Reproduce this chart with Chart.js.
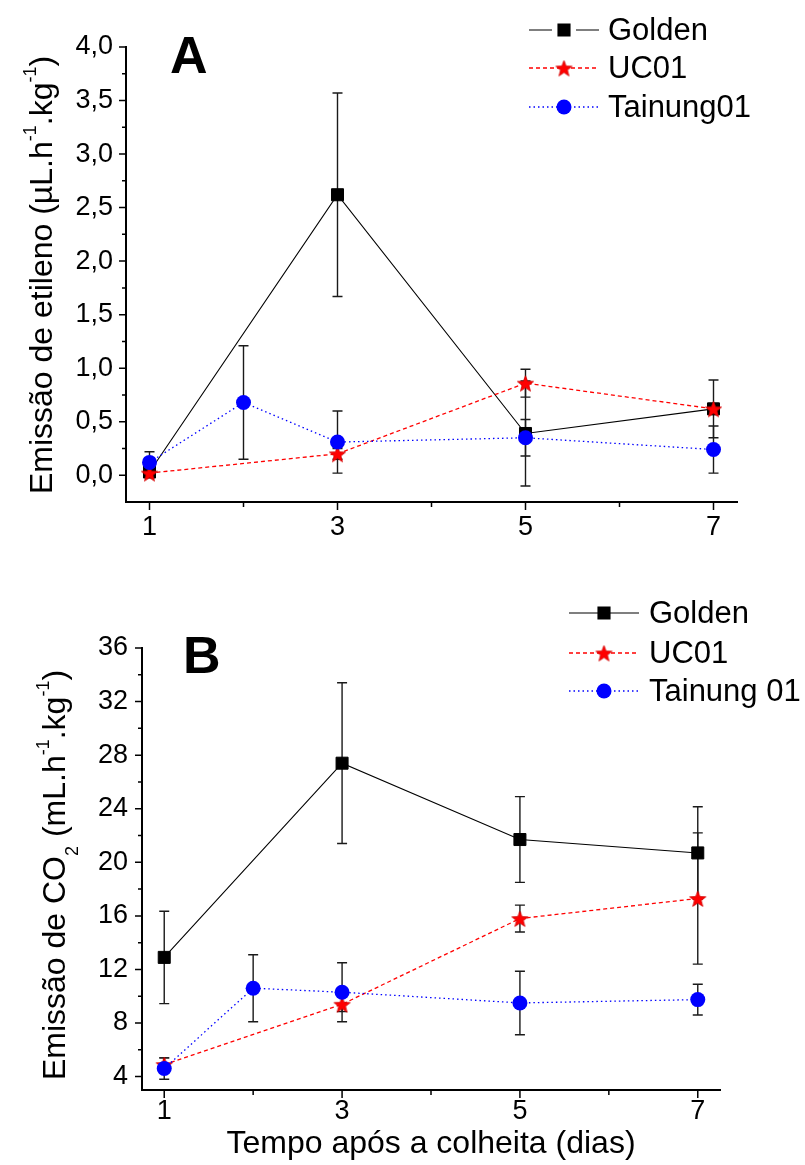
<!DOCTYPE html>
<html>
<head>
<meta charset="utf-8">
<script src="https://cdn.jsdelivr.net/npm/chart.js@4.4.1/dist/chart.umd.min.js"></script>
<style>
  body { margin: 0; background: #fff; width: 805px; height: 1165px; position: relative; overflow: hidden; }
  .panel { position: absolute; left: 0; width: 805px; }
  #panelA { top: 0; height: 580px; }
  #panelB { top: 580px; height: 585px; }
</style>
</head>
<body>
<div class="panel" id="panelA"><canvas id="chartA"></canvas></div>
<div class="panel" id="panelB"><canvas id="chartB"></canvas></div>
<script>
const FONT = '"Liberation Sans", Arial, sans-serif';

// days after harvest
const daysGolden = [1, 3, 5, 7];
const daysUC01 = [1, 3, 5, 7];
const daysTainung = [1, 2, 3, 5, 7];
const xLabelDays = [1, 3, 5, 7];
const xMinorDays = [2, 4, 6];

// A - ethylene (uL.h-1.kg-1), mean and error
const ethGolden = [0.03, 2.62, 0.39, 0.62];
const ethGoldenErr = [0.05, 0.95, 0.49, 0.27];
const ethUC01 = [0.02, 0.20, 0.86, 0.62];
const ethUC01Err = [0.03, 0.05, 0.13, 0.05];
const ethTainung = [0.12, 0.68, 0.31, 0.35, 0.24];
const ethTainungErr = [0.10, 0.53, 0.29, 0.17, 0.22];
const ethTicks = [0, 0.5, 1, 1.5, 2, 2.5, 3, 3.5, 4];
const ethMinor = [0.25, 0.75, 1.25, 1.75, 2.25, 2.75, 3.25, 3.75];

// B - CO2 (mL.h-1.kg-1), mean and error
const co2Golden = [12.9, 27.4, 21.7, 20.7];
const co2GoldenErr = [3.45, 6.0, 3.2, 3.45];
const co2UC01 = [4.9, 9.4, 15.8, 17.3];
const co2UC01Err = [0.5, 0.55, 1.0, 4.9];
const co2Tainung = [4.6, 10.6, 10.3, 9.5, 9.75];
const co2TainungErr = [0.8, 2.5, 2.2, 2.37, 1.15];
const co2Ticks = [4, 8, 12, 16, 20, 24, 28, 32, 36];
const co2Minor = [6, 10, 14, 18, 22, 26, 30, 34];

const namesA = ['Golden', 'UC01', 'Tainung01'];
const namesB = ['Golden', 'UC01', 'Tainung 01'];

function makeStar(r, color) {
    const c = document.createElement('canvas');
    const s = Math.ceil(r * 2 + 2);
    c.width = c.height = s;
    const g = c.getContext('2d');
    g.beginPath();
    for (let k = 0; k < 10; k++) {
        const rad = k % 2 ? r * 0.42 : r;
        const a = -Math.PI / 2 + k * Math.PI / 5;
        g.lineTo(s / 2 + rad * Math.cos(a), s / 2 + 1 + rad * Math.sin(a));
    }
    g.closePath();
    g.fillStyle = color;
    g.fill();
    g.strokeStyle = '#d00000';
    g.lineWidth = 0.8;
    g.stroke();
    return c;
}
const star = makeStar(8.5, '#ff0000');

function pts(xs, ys) {
    return xs.map((x, i) => ({ x: x, y: ys[i] }));
}

function buildDatasets(names, g, gErr, u, uErr, t, tErr) {
    return [
        { label: names[0], data: pts(daysGolden, g), errorBars: gErr, order: 3,
          borderColor: '#000', borderWidth: 1.1, backgroundColor: '#000',
          pointStyle: 'rect', pointRadius: 8.5, pointBorderWidth: 1, pointBorderColor: '#000' },
        { label: names[1], data: pts(daysUC01, u), errorBars: uErr, order: 2,
          borderColor: '#ff0000', borderWidth: 1.3, borderDash: [4, 3], backgroundColor: '#ff0000',
          pointStyle: star, pointRadius: 8 },
        { label: names[2], data: pts(daysTainung, t), errorBars: tErr, order: 1,
          borderColor: '#0000ff', borderWidth: 1.3, borderDash: [1.5, 3], backgroundColor: '#0000ff',
          pointStyle: 'circle', pointRadius: 7.5, pointBorderWidth: 0, pointBorderColor: '#0000ff' }
    ];
}

function drawRich(ctx, parts, cx, cy, size) {
    const small = Math.round(size * 0.56);
    ctx.save();
    ctx.translate(cx, cy);
    ctx.rotate(-Math.PI / 2);
    ctx.fillStyle = '#000';
    ctx.textBaseline = 'alphabetic';
    let total = 0;
    parts.forEach(p => {
        ctx.font = (p.k ? small : size) + 'px ' + FONT;
        total += ctx.measureText(p.t).width;
    });
    let xx = -total / 2;
    parts.forEach(p => {
        ctx.font = (p.k ? small : size) + 'px ' + FONT;
        const dy = p.k === 'sup' ? -size * 0.5 : (p.k === 'sub' ? size * 0.42 : 0);
        ctx.fillText(p.t, xx, dy);
        xx += ctx.measureText(p.t).width;
    });
    ctx.restore();
}

const panelPlugin = {
    id: 'panel',
    beforeDatasetsDraw(chart) {
        const { ctx, scales: { x, y } } = chart;
        ctx.save();
        ctx.strokeStyle = '#1a1a1a';
        ctx.lineWidth = 1.4;
        chart.data.datasets.forEach(ds => {
            (ds.errorBars || []).forEach((e, i) => {
                const p = ds.data[i];
                const px = x.getPixelForValue(p.x);
                const top = y.getPixelForValue(p.y + e);
                const bot = y.getPixelForValue(p.y - e);
                ctx.beginPath();
                ctx.moveTo(px, top); ctx.lineTo(px, bot);
                ctx.moveTo(px - 5, top); ctx.lineTo(px + 5, top);
                ctx.moveTo(px - 5, bot); ctx.lineTo(px + 5, bot);
                ctx.stroke();
            });
        });
        ctx.restore();
    },
    afterDraw(chart, args, opts) {
        const { ctx, chartArea: area, scales: { x, y } } = chart;
        ctx.save();
        // tick marks (outside)
        ctx.strokeStyle = '#000';
        ctx.lineWidth = 1.5;
        ctx.beginPath();
        xLabelDays.forEach(v => { const px = x.getPixelForValue(v); ctx.moveTo(px, area.bottom); ctx.lineTo(px, area.bottom + 8); });
        xMinorDays.forEach(v => { const px = x.getPixelForValue(v); ctx.moveTo(px, area.bottom); ctx.lineTo(px, area.bottom + 5); });
        opts.yMajor.forEach(v => { const py = y.getPixelForValue(v); ctx.moveTo(area.left, py); ctx.lineTo(area.left - 7, py); });
        opts.yMinor.forEach(v => { const py = y.getPixelForValue(v); ctx.moveTo(area.left, py); ctx.lineTo(area.left - 4, py); });
        ctx.stroke();

        // y title
        drawRich(ctx, opts.yTitle, opts.yTitleX, opts.yTitleY, 32);

        // x title
        if (opts.xTitle) {
            ctx.font = '32px ' + FONT;
            ctx.fillStyle = '#000';
            ctx.textAlign = 'center';
            ctx.textBaseline = 'alphabetic';
            ctx.fillText(opts.xTitle, (area.left + area.right) / 2, opts.xTitleY);
        }

        // panel letter
        ctx.font = 'bold 52px ' + FONT;
        ctx.fillStyle = '#000';
        ctx.textAlign = 'left';
        ctx.textBaseline = 'alphabetic';
        ctx.fillText(opts.letter, opts.letterX, opts.letterY);

        // legend: line - marker - line, then name
        const lg = opts.legend;
        chart.data.datasets.forEach((ds, i) => {
            const ly = lg.rows[i];
            ctx.save();
            ctx.strokeStyle = ds.borderColor;
            ctx.lineWidth = ds.borderWidth;
            ctx.setLineDash(ds.borderDash || []);
            ctx.beginPath();
            if (i === 0 && lg.gap) {
                ctx.moveTo(lg.x1, ly); ctx.lineTo(lg.mx - 12, ly);
                ctx.moveTo(lg.mx + 12, ly); ctx.lineTo(lg.x2, ly);
            } else {
                ctx.moveTo(lg.x1, ly); ctx.lineTo(lg.x2, ly);
            }
            ctx.stroke();
            ctx.setLineDash([]);
            if (ds.pointStyle instanceof HTMLCanvasElement) {
                ctx.drawImage(ds.pointStyle, lg.mx - ds.pointStyle.width / 2, ly - ds.pointStyle.height / 2);
            } else {
                ctx.fillStyle = ds.backgroundColor;
                ctx.strokeStyle = ds.pointBorderColor;
                Chart.helpers.drawPoint(ctx, { pointStyle: ds.pointStyle, radius: ds.pointRadius, borderWidth: ds.pointBorderWidth, rotation: 0 }, lg.mx, ly);
            }
            ctx.restore();
            ctx.font = '31px ' + FONT;
            ctx.fillStyle = '#000';
            ctx.textAlign = 'left';
            ctx.textBaseline = 'middle';
            ctx.fillText(ds.label, lg.tx, ly + 1);
        });
        ctx.restore();
    }
};

function makeChart(id, cfg) {
    return new Chart(document.getElementById(id), {
        type: 'line',
        data: { datasets: cfg.datasets },
        options: {
            responsive: true,
            maintainAspectRatio: false,
            animation: false,
            layout: { padding: { left: 0, top: cfg.top, right: cfg.right, bottom: 0 } },
            elements: { line: { tension: 0, fill: false } },
            plugins: {
                legend: { display: false },
                tooltip: { enabled: false },
                panel: cfg.panel
            },
            scales: {
                x: {
                    type: 'linear', min: 0.75, max: 7.25,
                    afterFit: s => { s.height = cfg.xAxisH; },
                    afterBuildTicks: s => { s.ticks = xLabelDays.map(v => ({ value: v })); },
                    ticks: { color: '#000', font: { family: FONT, size: 27 }, padding: cfg.xPad,
                             autoSkip: false, maxRotation: 0, callback: v => String(v) },
                    grid: { drawOnChartArea: false, drawTicks: false },
                    border: { color: '#000', width: 2 }
                },
                y: {
                    type: 'linear', min: cfg.yMin, max: cfg.yMax,
                    afterFit: s => { s.width = cfg.yAxisW; },
                    afterBuildTicks: s => { s.ticks = cfg.yTicks.map(v => ({ value: v })); },
                    ticks: { color: '#000', font: { family: FONT, size: 27 }, padding: cfg.yPad,
                             autoSkip: false, callback: cfg.yFmt },
                    grid: { drawOnChartArea: false, drawTicks: false },
                    border: { color: '#000', width: 2 }
                }
            }
        },
        plugins: [panelPlugin]
    });
}

makeChart('chartA', {
    datasets: buildDatasets(namesA, ethGolden, ethGoldenErr, ethUC01, ethUC01Err, ethTainung, ethTainungErr),
    top: 47, right: 68, xAxisH: 78, yAxisW: 126, xPad: 9, yPad: 13,
    yMin: -0.25, yMax: 4, yTicks: ethTicks,
    yFmt: v => v.toFixed(1).replace('.', ','),
    panel: {
        yMajor: ethTicks, yMinor: ethMinor,
        yTitle: [{ t: 'Emissão de etileno (µL.h' }, { t: '-1', k: 'sup' }, { t: '.kg' }, { t: '-1', k: 'sup' }, { t: ')' }],
        yTitleX: 52, yTitleY: 275,
        letter: 'A', letterX: 170, letterY: 73,
        legend: { x1: 529, x2: 599, mx: 564, tx: 608, rows: [30, 68, 107], gap: true }
    }
});

makeChart('chartB', {
    datasets: buildDatasets(namesB, co2Golden, co2GoldenErr, co2UC01, co2UC01Err, co2Tainung, co2TainungErr),
    top: 68, right: 85, xAxisH: 75, yAxisW: 142, xPad: 5, yPad: 14,
    yMin: 3, yMax: 36, yTicks: co2Ticks,
    yFmt: v => String(v),
    panel: {
        yMajor: co2Ticks, yMinor: co2Minor,
        yTitle: [{ t: 'Emissão de CO' }, { t: '2', k: 'sub' }, { t: ' (mL.h' }, { t: '-1', k: 'sup' }, { t: '.kg' }, { t: '-1', k: 'sup' }, { t: ')' }],
        yTitleX: 65, yTitleY: 295,
        xTitle: 'Tempo após a colheita (dias)', xTitleY: 573,
        letter: 'B', letterX: 183, letterY: 93,
        legend: { x1: 569, x2: 639, mx: 604, tx: 649, rows: [33, 73, 111], gap: false }
    }
});
</script>
</body>
</html>
